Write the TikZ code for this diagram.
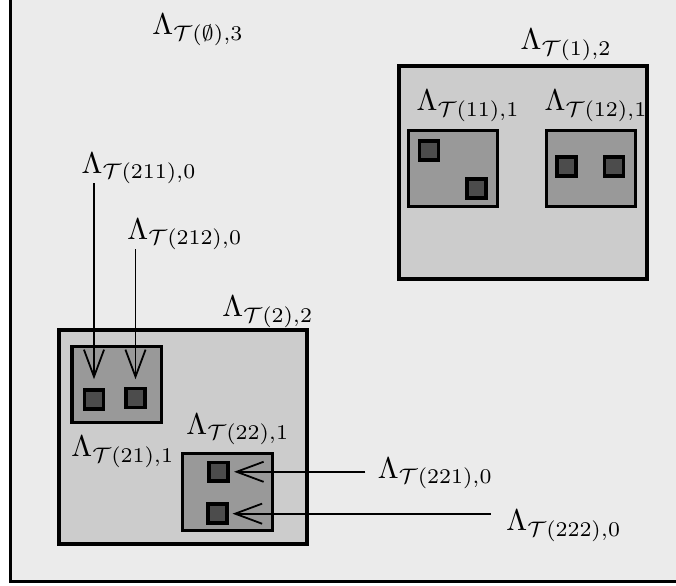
\documentclass[tikz,border=0pt]{standalone}
\usetikzlibrary{arrows.meta,calc}

\definecolor{shadeA}{gray}{0.92}
\definecolor{shadeB}{gray}{0.80}
\definecolor{shadeC}{gray}{0.60}
\definecolor{shadeD}{gray}{0.30}

\begin{document}
\begin{tikzpicture}[x=0.3333pt,y=-0.3333pt,
    lbl/.style={inner sep=2pt,anchor=base west},
    cell/.style={draw,fill=shadeD,line width=1.2pt,minimum size=6.3pt,inner sep=0pt},
    pointer/.style={-{Straight Barb[length=9pt,width=6.7pt]},line width=0.6pt}]
    \useasboundingbox (0,0) rectangle (676,586);
    \clip (0,0) rectangle (676,586);

    \filldraw[fill=shadeA,line width=1pt] (10.5,-1) rectangle (680,581.5);

    \filldraw[fill=shadeB,line width=1.4pt] (399,66) rectangle (647,279);
    \filldraw[fill=shadeC,line width=1pt] (408,131) rectangle (497,207);
    \filldraw[fill=shadeC,line width=1pt] (546,131) rectangle (635,207);

    \filldraw[fill=shadeB,line width=1.4pt] (59,330) rectangle (307,544);
    \filldraw[fill=shadeC,line width=1pt] (72,347) rectangle (161,423);
    \filldraw[fill=shadeC,line width=1pt] (182,454) rectangle (272,531);

    \node[cell] (s111) at (429,150.5) {};
    \node[cell] (s112) at (476.5,188.5) {};
    \node[cell] (s121) at (566.3,166.7) {};
    \node[cell] (s122) at (614,166.7) {};
    \node[cell] (s211) at (94,399.5) {};
    \node[cell] (s212) at (135.5,398) {};
    \node[cell] (s221) at (218.3,471.8) {};
    \node[cell] (s222) at (217.7,513.7) {};

    \node[lbl] (l0) at (145.7,35) {$\Lambda_{\mathcal{T}(\emptyset),3}$};
    \node[lbl] (l1) at (514,50) {$\Lambda_{\mathcal{T}(1),2}$};
    \node[lbl] (l11) at (410,111) {$\Lambda_{\mathcal{T}(11),1}$};
    \node[lbl] (l12) at (538,111) {$\Lambda_{\mathcal{T}(12),1}$};
    \node[lbl] (l2) at (215.7,316.7) {$\Lambda_{\mathcal{T}(2),2}$};
    \node[lbl] (l21) at (64.7,456.7) {$\Lambda_{\mathcal{T}(21),1}$};
    \node[lbl] (l22) at (179.7,434.3) {$\Lambda_{\mathcal{T}(22),1}$};
    \node[lbl] (l211) at (75,173.3) {$\Lambda_{\mathcal{T}(211),0}$};
    \node[lbl] (l212) at (120.7,239.3) {$\Lambda_{\mathcal{T}(212),0}$};
    \node[lbl] (l221) at (371.3,478.3) {$\Lambda_{\mathcal{T}(221),0}$};
    \node[lbl] (l222) at (499.7,530.7) {$\Lambda_{\mathcal{T}(222),0}$};

    \draw[pointer,shorten >=3pt] ($(s211 |- l211.base)+(0,10)$) -- (s211.north);
    \draw[pointer,shorten >=2.5pt] ($(s212 |- l212.base)+(0,10)$) -- (s212.north);
    \draw[pointer,shorten >=1.5pt] ($(l221.west |- s221)+(-6,0)$) -- (s221.east);
    \draw[pointer,shorten >=1.2pt] ($(l222.west |- s222)+(-9,0)$) -- (s222.east);
\end{tikzpicture}
\end{document}
